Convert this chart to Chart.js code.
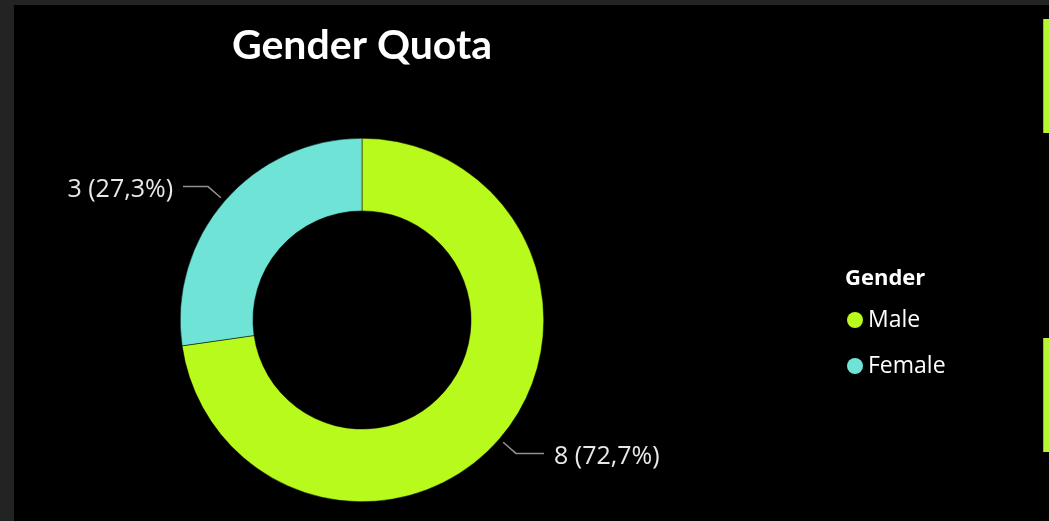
<!DOCTYPE html>
<html>
<head>
<meta charset="utf-8">
<script src="https://cdn.jsdelivr.net/npm/chart.js@4.4.1/dist/chart.umd.min.js"></script>
<style>
	html, body { margin: 0; padding: 0; background: #232323; width: 1049px; height: 521px; overflow: hidden; }
	.panel { position: absolute; left: 14px; top: 5px; right: 0; bottom: 0; background: #000; }
	.tab { position: absolute; left: 1043px; width: 6px; background: #b6f531; box-shadow: inset 1px 0 0 #8fbf2a; }
	#chart { position: absolute; left: 0; top: 0; }
</style>
</head>
<body>
<div class="panel"></div>
<div class="tab" style="top:19px;height:114px"></div>
<div class="tab" style="top:338px;height:114px"></div>
<canvas id="chart" width="1049" height="521"></canvas>
<script>
// data
const chartTitle = "Gender Quota";
const legendTitle = "Gender";
const categories = ["Male", "Female"];
const counts = [8, 3];
const colors = ["#b9fa1d", "#6fe3d6"];

const labelFont = '25px "Open Sans", sans-serif';

// draws the title, legend and the outside labels with leader lines
const decorations = {
	id: "decorations",
	afterDraw(chart) {
		const ctx = chart.ctx;
		const meta = chart.getDatasetMeta(0);
		const total = counts.reduce((a, b) => a + b, 0);

		ctx.save();

		// title
		ctx.fillStyle = "#ffffff";
		ctx.font = 'bold 41px Lato, sans-serif';
		ctx.textAlign = "center";
		ctx.textBaseline = "middle";
		ctx.fillText(chartTitle, 362, 46);

		// labels
		meta.data.forEach((arc, i) => {
			const p = arc.getProps(["x", "y", "startAngle", "endAngle", "outerRadius"], true);
			const mid = (p.startAngle + p.endAngle) / 2;
			const cos = Math.cos(mid), sin = Math.sin(mid);
			const r0 = p.outerRadius + 5, r1 = p.outerRadius + 22;
			const right = cos >= 0;
			const x0 = p.x + cos * r0, y0 = p.y + sin * r0;
			const x1 = p.x + cos * r1, y1 = p.y + sin * r1;
			const x2 = x1 + (right ? 28 : -25);

			ctx.strokeStyle = "#909090";
			ctx.lineWidth = 1.5;
			ctx.beginPath();
			ctx.moveTo(x0, y0);
			ctx.lineTo(x1, y1);
			ctx.lineTo(x2, y1);
			ctx.stroke();

			const pct = (counts[i] / total * 100).toFixed(1).replace(".", ",");
			ctx.fillStyle = "#e8e8e8";
			ctx.font = labelFont;
			ctx.textAlign = right ? "left" : "right";
			ctx.fillText(counts[i] + " (" + pct + "%)", x2 + (right ? 10 : -10), y1 + 3);
		});

		// legend
		ctx.textAlign = "left";
		ctx.fillStyle = "#ffffff";
		ctx.font = 'bold 22px "Open Sans", sans-serif';
		ctx.fillText(legendTitle, 845, 279);
		categories.forEach((c, i) => {
			const y = 320 + i * 46;
			ctx.fillStyle = colors[i];
			ctx.beginPath();
			ctx.arc(855, y, 8, 0, Math.PI * 2);
			ctx.fill();
			ctx.fillStyle = "#ffffff";
			ctx.font = '23px "Open Sans", sans-serif';
			ctx.fillText(c, 868, y);
		});

		ctx.restore();
	}
};

new Chart(document.getElementById("chart"), {
	type: "doughnut",
	data: {
		labels: categories,
		datasets: [{
			data: counts,
			backgroundColor: colors,
			borderColor: "#000000",
			borderWidth: 0.5
		}]
	},
	options: {
		responsive: false,
		animation: false,
		cutout: "60%",
		layout: {
			padding: { left: 180, right: 505, top: 138, bottom: 19 }
		},
		plugins: {
			legend: { display: false },
			title: { display: false },
			tooltip: { enabled: false }
		}
	},
	plugins: [decorations]
});
</script>
</body>
</html>
